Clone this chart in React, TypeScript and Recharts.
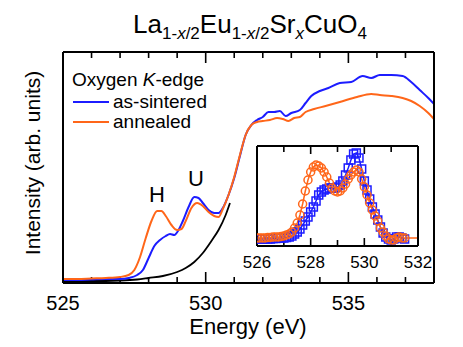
import { LineChart, Line, XAxis, YAxis, ReferenceLine } from "recharts";

const FONT = '"Liberation Sans", Arial, Helvetica, sans-serif';
const BLUE = "#1c1cff";
const ORANGE = "#ff6619";

// main panel: O K-edge XAS
const sinteredE = [525.0, 525.5, 526.0, 526.5, 527.0, 527.3, 527.6, 527.8, 528.0, 528.2, 528.4, 528.6, 528.75, 528.9, 529.05, 529.2, 529.4, 529.6, 529.75, 529.9, 530.1, 530.3, 530.45, 530.6, 530.8, 531.0, 531.2, 531.4, 531.6, 531.8, 532.0, 532.2, 532.4, 532.6, 532.8, 533.0, 533.3, 533.5, 533.7, 534.0, 534.3, 534.7, 535.1, 535.5, 535.8, 536.1, 536.5, 536.9, 537.2, 537.5, 537.8, 538.0];
const sinteredI = [0.03, 0.03, 0.035, 0.04, 0.04, 0.05, 0.08, 0.13, 0.25, 0.37, 0.43, 0.47, 0.49, 0.48, 0.53, 0.62, 0.76, 0.86, 0.85, 0.8, 0.73, 0.7, 0.7, 0.75, 0.88, 1.05, 1.27, 1.48, 1.58, 1.63, 1.66, 1.71, 1.71, 1.72, 1.67, 1.7, 1.73, 1.8, 1.87, 1.92, 1.95, 2.0, 2.01, 2.07, 2.05, 2.08, 2.08, 2.07, 2.01, 1.93, 1.85, 1.79];

const annealedE = [525.0, 525.5, 526.0, 526.5, 527.0, 527.3, 527.5, 527.7, 527.9, 528.1, 528.3, 528.45, 528.6, 528.8, 529.0, 529.15, 529.3, 529.5, 529.7, 529.9, 530.1, 530.3, 530.45, 530.6, 530.8, 531.0, 531.2, 531.4, 531.6, 531.8, 532.0, 532.25, 532.5, 532.7, 532.9, 533.1, 533.3, 533.5, 533.8, 534.2, 534.7, 535.3, 535.8, 536.1, 536.5, 536.9, 537.2, 537.5, 537.8, 538.0];
const annealedI = [0.04, 0.04, 0.045, 0.05, 0.06, 0.08, 0.13, 0.26, 0.45, 0.62, 0.72, 0.72, 0.67, 0.58, 0.53, 0.54, 0.62, 0.75, 0.8, 0.77, 0.71, 0.67, 0.66, 0.74, 0.88, 1.06, 1.28, 1.48, 1.58, 1.61, 1.62, 1.63, 1.65, 1.64, 1.62, 1.65, 1.66, 1.71, 1.74, 1.77, 1.81, 1.86, 1.89, 1.88, 1.87, 1.85, 1.82, 1.77, 1.7, 1.64];

const backgroundE = [525.0, 526.0, 527.0, 527.6, 528.0, 528.5, 529.0, 529.3, 529.6, 529.9, 530.2, 530.45, 530.7, 530.85];
const backgroundI = [0.02, 0.02, 0.025, 0.035, 0.05, 0.07, 0.11, 0.15, 0.21, 0.3, 0.42, 0.53, 0.68, 0.8];

const mainMajor = [525, 530, 535];
const mainTicks = [526, 527, 528, 529, 530, 531, 532, 533, 534, 535, 536, 537];

// inset: pre-edge after background subtraction
const insetE = [526.0, 526.1, 526.2, 526.3, 526.4, 526.5, 526.6, 526.7, 526.8, 526.9, 527.0, 527.1, 527.2, 527.3, 527.4, 527.5, 527.6, 527.7, 527.8, 527.9, 528.0, 528.1, 528.2, 528.3, 528.4, 528.5, 528.6, 528.7, 528.8, 528.9, 529.0, 529.1, 529.2, 529.3, 529.4, 529.5, 529.6, 529.7, 529.8, 529.9, 530.0, 530.1, 530.2, 530.3, 530.4, 530.5, 530.6, 530.7, 530.8, 530.9, 531.0, 531.1, 531.2, 531.3, 531.4, 531.5];
const insetSintered = [0.07, 0.07, 0.07, 0.07, 0.07, 0.07, 0.075, 0.075, 0.08, 0.08, 0.08, 0.085, 0.09, 0.1, 0.12, 0.14, 0.17, 0.21, 0.25, 0.29, 0.34, 0.39, 0.45, 0.51, 0.54, 0.56, 0.57, 0.58, 0.58, 0.58, 0.59, 0.61, 0.65, 0.71, 0.78, 0.86, 0.92, 0.93, 0.88, 0.77, 0.65, 0.56, 0.47, 0.39, 0.32, 0.26, 0.19, 0.13, 0.09, 0.07, 0.06, 0.07, 0.09, 0.09, 0.08, 0.07];
const insetAnnealed = [0.08, 0.08, 0.08, 0.08, 0.085, 0.085, 0.09, 0.09, 0.09, 0.095, 0.1, 0.11, 0.12, 0.14, 0.18, 0.23, 0.31, 0.42, 0.55, 0.66, 0.74, 0.79, 0.81, 0.8, 0.78, 0.74, 0.69, 0.63, 0.58, 0.55, 0.54, 0.55, 0.58, 0.62, 0.67, 0.71, 0.74, 0.76, 0.74, 0.67, 0.59, 0.51, 0.43, 0.36, 0.3, 0.25, 0.18, 0.14, 0.1, 0.07, 0.06, 0.06, 0.08, 0.09, 0.08, 0.08];
const annealedTailE = [531.6, 531.8, 532.0];
const annealedTailI = [0.08, 0.08, 0.08];

const insetMajor = [526, 528, 530, 532];
const insetTicks = [527, 528, 529, 530, 531];

const zip = (xs: number[], ys: number[]) => xs.map((e, i) => ({ e, v: ys[i] }));

const sinteredData = zip(sinteredE, sinteredI);
const annealedData = zip(annealedE, annealedI);
const backgroundData = zip(backgroundE, backgroundI);
const insetSinteredData = zip(insetE, insetSintered);
const insetAnnealedData = [
  ...zip(insetE, insetAnnealed).map((d) => ({ ...d, mark: true })),
  ...zip(annealedTailE, annealedTailI).map((d) => ({ ...d, mark: false })),
];

const makeLabel = (fontSize: number, dy: number) => (props: any) => {
  const { x, y, payload } = props;
  return (
    <text x={x} y={y + dy} textAnchor="middle" fontSize={fontSize} fontFamily={FONT} fill="#000">
      {payload.value}
    </text>
  );
};

const MainLabel = makeLabel(20, 27);
const InsetLabel = makeLabel(17, 22);
const NoLabel = () => <g />;

const frame = { stroke: "#000", strokeWidth: 2 };

function SquareDot(props: any) {
  const { cx, cy, index } = props;
  return <rect key={`s${index}`} x={cx - 4} y={cy - 4} width={8} height={8} fill="none" stroke={BLUE} strokeWidth={1.5} />;
}

function CircleDot(props: any) {
  const { cx, cy, index, payload } = props;
  if (!payload.mark) return <g key={`c${index}`} />;
  return <circle key={`c${index}`} cx={cx} cy={cy} r={4} fill="none" stroke={ORANGE} strokeWidth={1.5} />;
}

// box frame with labels on the bottom
function Frame(p: { domain: [number, number]; major: number[]; label: any; yDomain: [number, number] }) {
  const common = { dataKey: "e", type: "number" as const, domain: p.domain, interval: 0 as const, height: 1, tickSize: 0, tickMargin: 0, tickLine: false, axisLine: frame, allowDataOverflow: true };
  return [
    <XAxis key="b" {...common} ticks={p.major} tick={p.label} />,
    <XAxis key="t" xAxisId="t" orientation="top" {...common} ticks={p.major} tick={NoLabel} />,
    <YAxis key="l" type="number" domain={p.yDomain} width={1} tick={false} tickLine={false} axisLine={frame} allowDataOverflow />,
    <YAxis key="r" yAxisId="r" orientation="right" type="number" domain={p.yDomain} width={1} tick={false} tickLine={false} axisLine={frame} allowDataOverflow />,
  ];
}

// inward tick marks on bottom and top edges (lengths in y-data units)
function TickMarks(ticks: number[], major: number[], yMax: number, majorLen: number, minorLen: number) {
  return ticks.flatMap((v) => {
    const len = major.includes(v) ? majorLen : minorLen;
    return [
      <ReferenceLine key={`b${v}`} segment={[{ x: v, y: 0 }, { x: v, y: len }]} stroke="#000" strokeWidth={1.6} ifOverflow="visible" />,
      <ReferenceLine key={`t${v}`} segment={[{ x: v, y: yMax }, { x: v, y: yMax - len }]} stroke="#000" strokeWidth={1.6} ifOverflow="visible" />,
    ];
  });
}

export default function App() {
  return (
    <div style={{ position: "absolute", left: 0, top: 0, width: 463, height: 347, background: "#fff", fontFamily: FONT }}>
      <div style={{ position: "absolute", left: 0, top: 0 }}>
        <LineChart width={463} height={347} margin={{ top: 51, right: 28, bottom: 63, left: 62 }}>
          {Frame({ domain: [525, 538], major: mainMajor, label: MainLabel, yDomain: [0, 2.31] })}
          {TickMarks(mainTicks, mainMajor, 2.31, 0.11, 0.06)}
          <Line data={backgroundData} dataKey="v" type="monotone" stroke="#000" strokeWidth={1.8} dot={false} isAnimationActive={false} />
          <Line data={sinteredData} dataKey="v" type="monotone" stroke={BLUE} strokeWidth={2} dot={false} isAnimationActive={false} />
          <Line data={annealedData} dataKey="v" type="monotone" stroke={ORANGE} strokeWidth={2} dot={false} isAnimationActive={false} />
        </LineChart>
      </div>

      <div style={{ position: "absolute", left: 237, top: 140 }}>
        <LineChart width={200} height={140} margin={{ top: 5, right: 18, bottom: 33, left: 19 }}>
          {Frame({ domain: [526, 532], major: insetMajor, label: InsetLabel, yDomain: [0, 1] })}
          {TickMarks(insetTicks, insetMajor, 1, 0.08, 0.06)}
          <Line data={insetSinteredData} dataKey="v" type="linear" stroke={BLUE} strokeWidth={1.5} dot={SquareDot} isAnimationActive={false} />
          <Line data={insetAnnealedData} dataKey="v" type="linear" stroke={ORANGE} strokeWidth={1.5} dot={CircleDot} isAnimationActive={false} />
        </LineChart>
      </div>

      <svg width={463} height={347} style={{ position: "absolute", left: 0, top: 0, pointerEvents: "none" }}>
        <text x={250} y={33} textAnchor="middle" fontSize={26} fontFamily={FONT} fill="#000">
          La<tspan fontSize={17} dy={6}>1-</tspan>
          <tspan fontSize={17} fontStyle="italic">x</tspan>
          <tspan fontSize={17}>/2</tspan>
          <tspan dy={-6}>Eu</tspan>
          <tspan fontSize={17} dy={6}>1-</tspan>
          <tspan fontSize={17} fontStyle="italic">x</tspan>
          <tspan fontSize={17}>/2</tspan>
          <tspan dy={-6}>Sr</tspan>
          <tspan fontSize={17} fontStyle="italic" dy={6}>x</tspan>
          <tspan dy={-6}>CuO</tspan>
          <tspan fontSize={17} dy={6}>4</tspan>
        </text>

        <text x={72} y={86} fontSize={19} fontFamily={FONT} fill="#000">
          Oxygen <tspan fontStyle="italic">K</tspan>-edge
        </text>
        <line x1={73} x2={109} y1={102} y2={102} stroke={BLUE} strokeWidth={2} />
        <text x={113} y={108} fontSize={19} fontFamily={FONT} fill="#000">as-sintered</text>
        <line x1={73} x2={109} y1={122} y2={122} stroke={ORANGE} strokeWidth={2} />
        <text x={113} y={128} fontSize={19} fontFamily={FONT} fill="#000">annealed</text>

        <text x={157} y={202} textAnchor="middle" fontSize={22} fontFamily={FONT} fill="#000">H</text>
        <text x={196} y={186} textAnchor="middle" fontSize={22} fontFamily={FONT} fill="#000">U</text>

        <text x={248} y={334} textAnchor="middle" fontSize={22} fontFamily={FONT} fill="#000">Energy (eV)</text>
        <text transform="translate(40,163) rotate(-90)" textAnchor="middle" fontSize={21} fontFamily={FONT} fill="#000">
          Intensity (arb. units)
        </text>
      </svg>
    </div>
  );
}
